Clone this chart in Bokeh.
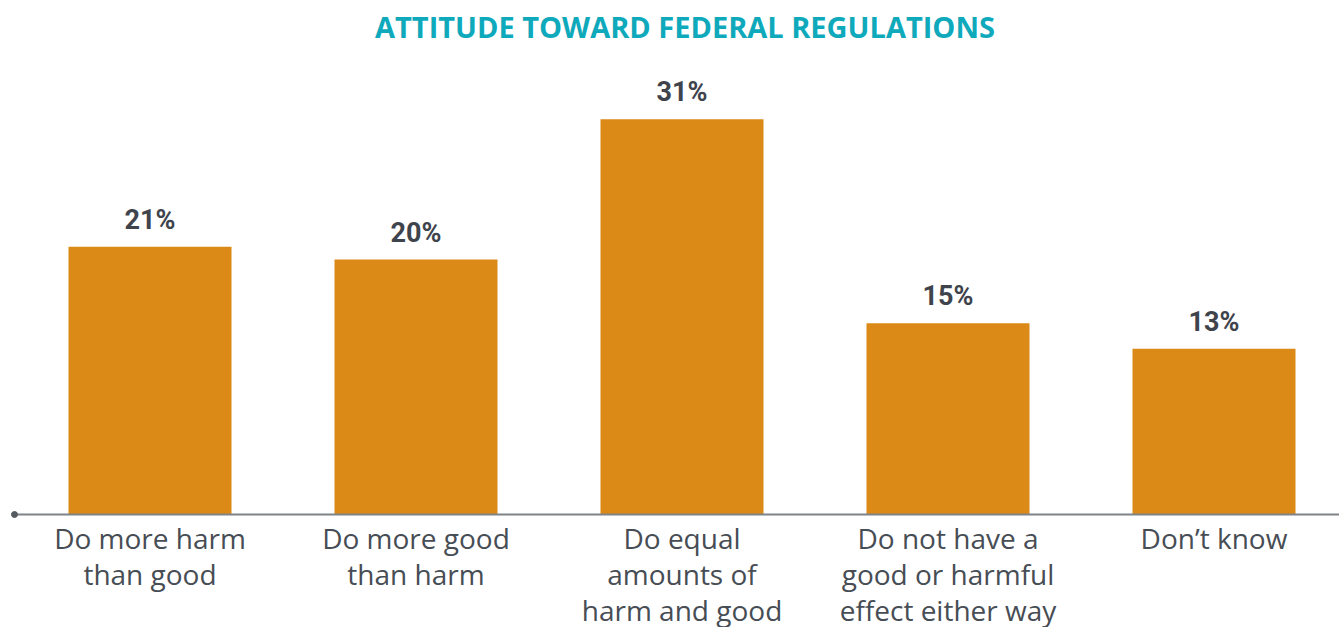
import numpy as np
from bokeh.plotting import figure
from bokeh.models import Range1d, Label, ColumnDataSource
from bokeh.core.properties import value
from bokeh.embed import file_html
from bokeh.resources import INLINE

categories = ["Do more harm\nthan good", "Do more good\nthan harm",
              "Do equal\namounts of\nharm and good",
              "Do not have a\ngood or harmful\neffect either way", "Don\u2019t know"]
values = [21, 20, 31, 15, 13]
labels = [f"{v}%" for v in values]
title_text = "ATTITUDE TOWARD FEDERAL REGULATIONS"

BAR = "#db8a17"
TEAL = "#0fa9bc"
DARK = "#3f444c"
GRAY = "#474d54"

W, H = 1339, 627
px_per_cat = 266.0
first_center = 149.5
base_px = 514.0
px_per_pct = 12.75

x = np.arange(len(values))
x_start = -first_center / px_per_cat
x_end = x_start + W / px_per_cat
y_start = -(H - base_px) / px_per_pct
y_end = base_px / px_per_pct

p = figure(width=W, height=H, output_backend="svg", toolbar_location=None,
           x_range=Range1d(x_start, x_end), y_range=Range1d(y_start, y_end),
           x_axis_location=None, y_axis_location=None,
           min_border=0, outline_line_color=None)
p.xgrid.visible = False
p.ygrid.visible = False
p.background_fill_color = "white"
p.border_fill_color = "white"

src = ColumnDataSource(dict(x=x, top=values, lab=labels, cat=categories,
                            zero=[0] * len(values)))

p.vbar(x="x", top="top", width=163 / px_per_cat, bottom=0, source=src,
       fill_color=BAR, line_color=None)

axis_left = x_start + 14 / px_per_cat
p.segment(x0=[axis_left], y0=[0], x1=[x_end], y1=[0], line_color="#7f8388", line_width=2)
p.scatter(x=[axis_left], y=[0], size=6, color="#555a60")

p.text(x="x", y="top", text="lab", source=src, y_offset=-27,
       text_align="center", text_baseline="alphabetic",
       text_font=value("Roboto"),
       text_font_style="bold", text_font_size="27px", text_color=DARK)

p.text(x="x", y="zero", text="cat", source=src, y_offset=4,
       text_align="center", text_baseline="top", text_line_height=0.96,
       text_font=value("Open Sans"), text_font_size="28px", text_color=GRAY)

title = Label(x=(684.5 - first_center) / px_per_cat, y=(base_px - 26) / px_per_pct,
              text=title_text, text_align="center", text_baseline="alphabetic",
              text_font="Open Sans", text_font_style="bold", text_font_size="29px",
              text_color=TEAL)
p.add_layout(title)

open("out.html", "w").write(file_html(p, INLINE))
